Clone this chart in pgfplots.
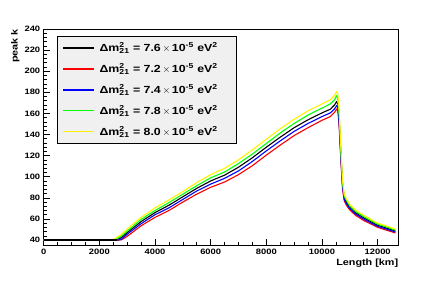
\documentclass[border=0pt]{standalone}
\usepackage{pgfplots}
\pgfplotsset{compat=1.18}
\usepackage{fontspec}
\setmainfont{Liberation Sans}[FakeStretch=1.2]
\definecolor{lgfill}{RGB}{240,240,240}
\newcommand{\dm}[1]{\hspace*{3pt}\bfseries Δm\rlap{\textsuperscript{2}}\textsubscript{21}\ =\ #1$\,\times\,$10\textsuperscript{-5}\ eV\textsuperscript{2}\hspace*{12pt}}
\begin{document}
\begin{tikzpicture}
\path[use as bounding box] (0,0) rectangle (443pt,285pt);
\begin{axis}[
  name=ax,
  at={(43.7pt,40pt)}, anchor=south west,
  scale only axis, width=354.6pt, height=216pt,
  xmin=0, xmax=12742, ymin=35.3, ymax=240,
  xtick={0,2000,...,12000}, ytick={40,60,...,240},
  scaled x ticks=false, scaled y ticks=false,
  minor x tick num=3, minor y tick num=4,
  xtick pos=bottom, ytick pos=left,
  tick align=inside,
  major tick length=6.5pt, minor tick length=3.5pt,
  axis line style={line width=0.8pt},
  every tick/.style={black, line width=0.6pt},
  /pgf/number format/assume math mode=true,
  /pgf/number format/set thousands separator={},
  tick label style={font=\bfseries\fontsize{7.8}{9}\selectfont},
  xticklabel style={yshift=-1pt},
  legend cell align=left,
  legend style={at={(rel axis cs:0.0375,0.9676)}, anchor=north west,
    draw=black, fill=lgfill, line width=0.8pt,
    font=\fontsize{10.3}{12}\selectfont, row sep=6.8pt, inner xsep=5pt, inner ysep=4.5pt},
  legend image code/.code={\draw[#1, line width=1.2pt] (0pt,0pt) -- (31pt,0pt);},
  every axis plot/.append style={line width=1.1pt},
]
% black 7.6
\addplot[black] coordinates {
(0,40) (2620,40) (2800,42.5) (3000,47) (3500,57.5) (4000,66) (4500,73) (5000,81) (5500,89) (6000,96) (6500,101.5) (7000,109) (7500,118) (8000,128) (8500,137.5) (9000,146.5) (9500,154) (10000,160.5) (10300,164) (10450,168) (10520,171) (10570,169) (10620,152) (10680,120) (10740,92) (10800,80) (10900,75) (11000,71) (11200,66) (11500,61) (12000,54) (12300,51.5) (12640,48.5)};
\addlegendentry{\dm{7.6}}
% red 7.2
\addplot[red] coordinates {
(0,40) (2740,40) (2800,40.3) (3000,43.5) (3500,53.5) (4000,61.5) (4500,68) (5000,76) (5500,83.5) (6000,90) (6500,95) (7000,102) (7500,110.5) (8000,120.5) (8500,130) (9000,139) (9500,146.5) (10000,153.5) (10300,157) (10450,161) (10520,164) (10570,162.5) (10620,146) (10680,114) (10740,88) (10800,77) (10900,72) (11000,68.5) (11200,63.5) (11500,58.5) (12000,52) (12300,49.5) (12640,46.7)};
\addlegendentry{\dm{7.2}}
% blue 7.4
\addplot[blue] coordinates {
(0,40) (2680,40) (2800,41) (3000,45.5) (3500,55.5) (4000,64) (4500,70.5) (5000,78.5) (5500,86.5) (6000,93) (6500,98.5) (7000,105.5) (7500,114.5) (8000,124.5) (8500,134) (9000,143) (9500,150.5) (10000,157) (10300,160.5) (10450,164.2) (10520,167.2) (10570,165.5) (10620,149) (10680,117) (10740,90) (10800,78.5) (10900,73.5) (11000,69.8) (11200,64.8) (11500,59.8) (12000,53) (12300,50.5) (12640,47.6)};
\addlegendentry{\dm{7.4}}
% green 7.8
\addplot[green] coordinates {
(0,40) (2550,40) (2620,41) (2800,44) (3000,48.5) (3500,59.5) (4000,68) (4500,75.5) (5000,83.5) (5500,91.5) (6000,99) (6500,104.5) (7000,112.5) (7500,121.5) (8000,131.5) (8500,141.5) (9000,150.5) (9500,158.5) (10000,165) (10300,169) (10450,173) (10520,176.5) (10570,174.5) (10620,157) (10680,123) (10740,94) (10800,81.5) (10900,76.5) (11000,72.2) (11200,67.2) (11500,62.2) (12000,55) (12300,52.5) (12640,49.4)};
\addlegendentry{\dm{7.8}}
% yellow 8.0
\addplot[yellow] coordinates {
(0,40) (2480,40) (2620,42.5) (2800,45.5) (3000,50.5) (3500,61.5) (4000,70.5) (4500,78) (5000,86) (5500,94.5) (6000,102) (6500,108) (7000,116) (7500,125.5) (8000,135.5) (8500,145.5) (9000,154.5) (9500,162.5) (10000,169) (10300,173) (10450,177) (10520,180.5) (10570,178.5) (10620,161) (10680,126) (10740,96) (10800,83) (10900,78) (11000,73.5) (11200,68.5) (11500,63.5) (12000,56) (12300,53.5) (12640,50.3)};
\addlegendentry{\dm{8.0}}
% black flat part drawn on top, as in the reference
\addplot[black, forget plot] coordinates {(0,40) (2620,40)};
\end{axis}
\node[rotate=90, anchor=south east, inner sep=0pt, font=\bfseries\fontsize{9}{10}\selectfont] at ([xshift=-24pt]ax.north west) {peak k};
\node[anchor=north east, inner sep=0pt, font=\bfseries\fontsize{9}{10}\selectfont] at ([yshift=-14pt]ax.south east) {Length [km]};
\end{tikzpicture}
\end{document}
